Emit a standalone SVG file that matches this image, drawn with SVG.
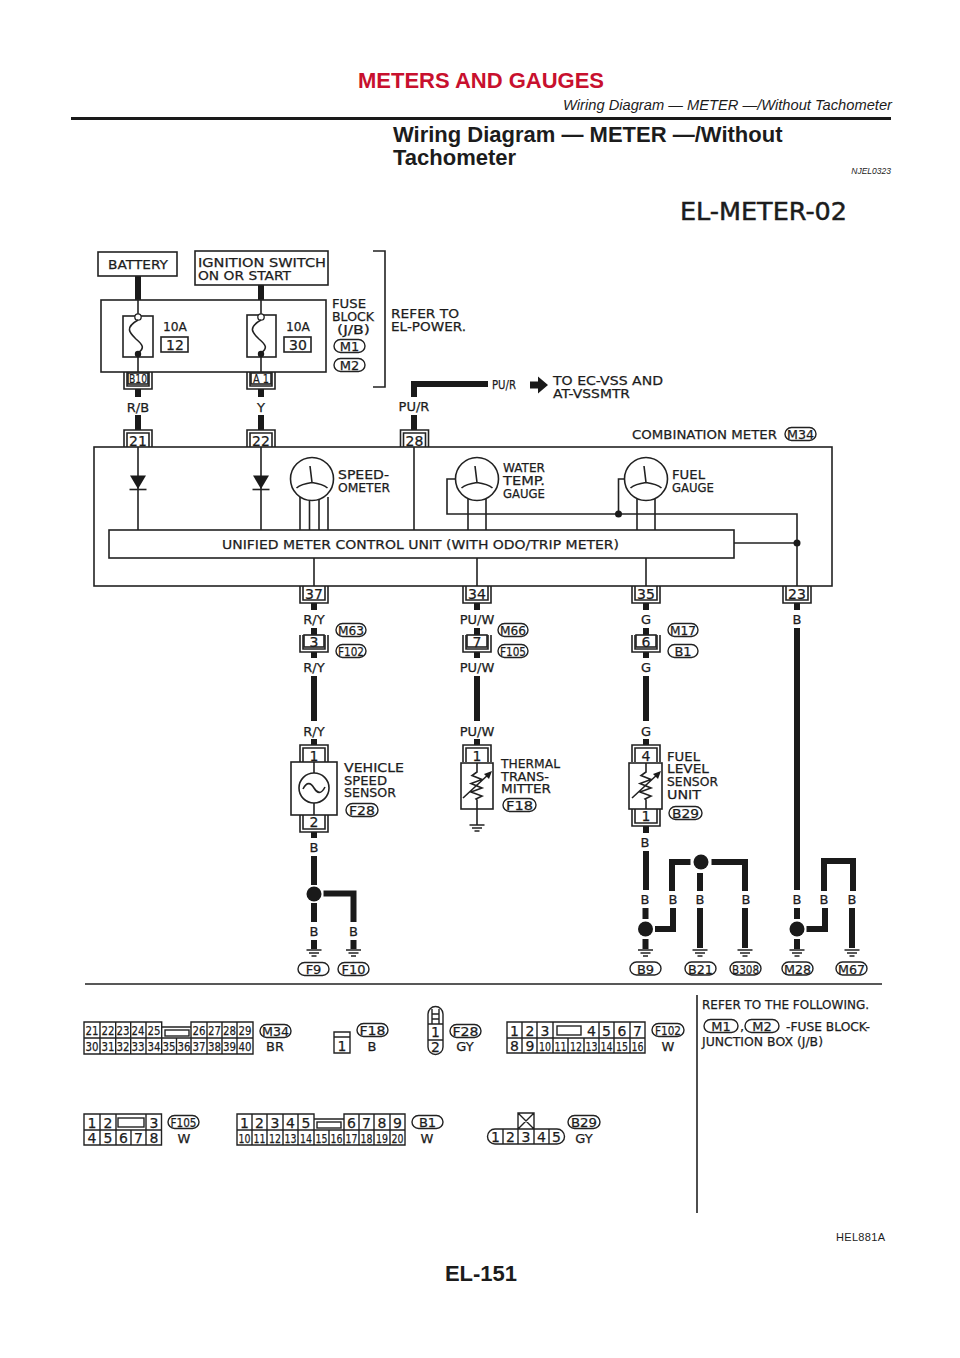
<svg xmlns="http://www.w3.org/2000/svg" width="960" height="1358" viewBox="0 0 960 1358">
<style>
text{font-family:"DejaVu Sans","Liberation Sans",sans-serif;fill:#1c1c1c}
.t{font-size:13px;stroke:#1c1c1c;stroke-width:.25}
.s{font-size:13px;text-anchor:middle;stroke:#1c1c1c;stroke-width:.25}
.c{font-size:14px;text-anchor:middle;stroke:#1c1c1c;stroke-width:.25}
.n{font-size:12.5px;text-anchor:middle;stroke:#1c1c1c;stroke-width:.25}
.h{font-family:"Liberation Sans",Arial,sans-serif}
.l,.o,.box{fill:none;stroke:#222;stroke-width:1.6}
.box{fill:#fff}
.o{fill:#fff;stroke-width:1.4}
.w{fill:none;stroke:#1a1a1a;stroke-width:6}
.g{fill:#1a1a1a}
.cell{fill:none;stroke:#222;stroke-width:1.4}
</style>
<defs>
<g id="gnd"><path class="l" d="M-7.500 0H7.500M-5 3H5M-2.500 6H2.500"/></g>
<g id="ub"><path class="l" d="M-14 0V17H14V0M-11 0V14H11V0"/></g>
<g id="ut"><path class="l" d="M-14 17V0H14V17M-11 17V3H11V17"/></g>
<g id="gauge"><circle class="box" r="21.500"/><path class="l" d="M0 3.500L-2 -13M0 3.500C-7 4.500 -12 6 -15.500 9M0 3.500C7 4.500 12 6 15.500 9"/></g>
<g id="fuse"><circle cx="0" cy="-19" r="3.200" fill="#fff" stroke="#222" stroke-width="1.300"/><path class="l" d="M0 -16C-14 -8 -8 -3 -2 3C5 9 7 12 0 17"/><circle class="g" cy="18" r="3.200"/></g>
<g id="therm"><path class="l" d="M0 -23V-14L-5 -10.500L5 -6.500L-6 -2.500L5 2L-6 6L5 10L-1 13L0 14V23M-14 12L13 -13"/><path class="g" d="M15 -15L7 -12L12 -7Z"/></g>
<g id="diode"><path class="g" d="M-8 -6.500H8L0 7Z"/><path class="l" d="M-8.500 7.500H8.500"/></g>
</defs>

<g id="header">
<text class="h" x="481" y="88" font-size="22" font-weight="700" style="fill:#c8102e" text-anchor="middle">METERS AND GAUGES</text>
<text class="h" x="892" y="110" font-size="14.700" font-style="italic" text-anchor="end">Wiring Diagram — METER —/Without Tachometer</text>
<rect x="71" y="117" width="820" height="3" fill="#1a1a1a"/>
<text class="h" x="393" y="142" font-size="22" font-weight="700">Wiring Diagram — METER —/Without</text>
<text class="h" x="393" y="165" font-size="22" font-weight="700">Tachometer</text>
<text class="h" x="891" y="174" font-size="8.500" font-style="italic" text-anchor="end">NJEL0323</text>
<text x="680" y="220" font-size="25" stroke="#1c1c1c" stroke-width=".5" textLength="167" lengthAdjust="spacingAndGlyphs">EL-METER-02</text>
</g>

<g id="connectors">
<path class="w" d="M138 276V300M261 285V300M138 389V397M138 415V430M261 389V397M261 415V430M414 415V430M414 397V384H488"/>
<path class="w" d="M314 603V610M314 628V636M314 652V658M314 676V721M314 739V745M314 832V838M314 856V885M314 903V922M314 940V949M323.500 893.500H353.500V922M353.500 940V949"/>
<path class="w" d="M477 603V610M477 628V636M477 652V658M477 676V721M477 739V745"/>
<path class="w" d="M646 603V610M646 628V636M646 652V658M646 676V721M646 739V745M646 826V833M646 851V890M645.500 908V919M645.500 939V949M655 929H673V908M672 891V862H690.500M711.500 862H745V891M745 908V948M700 873V891M700 908V948"/>
<path class="w" d="M797 603V610M797 628V890M797 908V919M797 939V949M806.500 929H825V908M824 891V861H853V891M852 908V948"/>
<path class="l" d="M138 300V316M138 357V372M261 300V316M261 357V372M138 447V530M261 447V530M414 447V530"/>
<path class="l" d="M300 497V530M309.500 500V530M319 500V530M328 497V530M468 498V530M486 498V530M637 498V530M655 498V530"/>
<path class="l" d="M455 479H447V514H797V586M627 479H618.500V514M734 543H797M314 558V586M477 558V586M646 558V586"/>
<path class="l" d="M373 251H385V387H373"/>
<circle class="g" cx="618.500" cy="514" r="3.500"/><circle class="g" cx="797" cy="543" r="3.500"/>
<circle class="g" cx="314" cy="894" r="7.500"/><circle class="g" cx="645.500" cy="929" r="7.500"/><circle class="g" cx="701" cy="862" r="7.500"/><circle class="g" cx="797" cy="929" r="7.500"/>
<path class="g" d="M530 381.500H538V376.500L548 385L538 393.500V388.500H530Z"/>
</g>

<g id="battery"><rect class="box" x="98" y="252" width="79" height="24"/><text class="t" x="108" y="269" textLength="60" lengthAdjust="spacingAndGlyphs">BATTERY</text></g>
<g id="ignition-switch"><rect class="box" x="195" y="251" width="133" height="34"/><text class="t" x="198" y="267" textLength="128" lengthAdjust="spacingAndGlyphs">IGNITION SWITCH</text><text class="t" x="198" y="280" textLength="93" lengthAdjust="spacingAndGlyphs">ON OR START</text></g>

<g id="fuse-block">
<rect class="l" x="101" y="300" width="225" height="72"/>
<rect class="box" x="123" y="316" width="30" height="41"/><use href="#fuse" x="138" y="336"/>
<rect class="box" x="247" y="315" width="29" height="42"/><use href="#fuse" x="261" y="336"/>
<text class="t" x="163" y="331" textLength="24" lengthAdjust="spacingAndGlyphs">10A</text>
<rect class="l" x="161" y="337" width="27" height="15"/><text class="c" x="175" y="350">12</text>
<text class="t" x="286" y="331" textLength="24" lengthAdjust="spacingAndGlyphs">10A</text>
<rect class="l" x="284" y="337" width="27" height="15"/><text class="c" x="298" y="350">30</text>
<text class="t" x="332" y="308" textLength="34" lengthAdjust="spacingAndGlyphs">FUSE</text>
<text class="t" x="332" y="321" textLength="42" lengthAdjust="spacingAndGlyphs">BLOCK</text>
<text class="t" x="337" y="334" textLength="33" lengthAdjust="spacingAndGlyphs">(J/B)</text>
<rect class="o" x="334" y="339.500" width="31" height="13" rx="6.500"/><text class="s" x="349.500" y="351">M1</text>
<rect class="o" x="334" y="358.500" width="31" height="13" rx="6.500"/><text class="s" x="349.500" y="370">M2</text>
<rect class="l" x="128" y="373" width="20" height="11"/><text class="n" x="138" y="383" textLength="18" lengthAdjust="spacingAndGlyphs">B10</text><use href="#ub" x="138" y="372"/>
<rect class="l" x="251" y="373" width="20" height="11"/><text class="n" x="261" y="383" textLength="16" lengthAdjust="spacingAndGlyphs">A 1</text><use href="#ub" x="261" y="372"/>
</g>
<g id="notes-top">
<text class="t" x="391" y="318" textLength="68" lengthAdjust="spacingAndGlyphs">REFER TO</text>
<text class="t" x="391" y="331" textLength="75" lengthAdjust="spacingAndGlyphs">EL-POWER.</text>
<text class="s" x="138" y="412">R/B</text><text class="s" x="261" y="412">Y</text><text class="s" x="414" y="411">PU/R</text>
<text class="s" x="504" y="389" textLength="24" lengthAdjust="spacingAndGlyphs">PU/R</text>
<text class="t" x="553" y="385" textLength="110" lengthAdjust="spacingAndGlyphs">TO EC-VSS AND</text>
<text class="t" x="553" y="398" textLength="77" lengthAdjust="spacingAndGlyphs">AT-VSSMTR</text>
<text class="t" x="632" y="439" textLength="145" lengthAdjust="spacingAndGlyphs">COMBINATION METER</text>
<rect class="o" x="785" y="427.500" width="31" height="13" rx="6.500"/><text class="s" x="800.500" y="439" textLength="27" lengthAdjust="spacingAndGlyphs">M34</text>
</g>

<g id="combination-meter">
<rect class="l" x="94" y="447" width="738" height="139"/>
<use href="#ut" x="138" y="430"/><text class="c" x="138" y="445.500">21</text>
<use href="#ut" x="261" y="430"/><text class="c" x="261" y="445.500">22</text>
<use href="#ut" x="414.500" y="430"/><text class="c" x="414.500" y="445.500">28</text>
<use href="#diode" x="138" y="482"/><use href="#diode" x="261" y="482"/>
<use href="#gauge" x="312" y="479"/><use href="#gauge" x="477" y="479"/><use href="#gauge" x="646" y="479"/>
<text class="t" x="338" y="479" textLength="51" lengthAdjust="spacingAndGlyphs">SPEED-</text>
<text class="t" x="338" y="492" textLength="52" lengthAdjust="spacingAndGlyphs">OMETER</text>
<text class="t" x="503" y="472" textLength="42" lengthAdjust="spacingAndGlyphs">WATER</text>
<text class="t" x="503" y="485" textLength="42" lengthAdjust="spacingAndGlyphs">TEMP.</text>
<text class="t" x="503" y="498" textLength="42" lengthAdjust="spacingAndGlyphs">GAUGE</text>
<text class="t" x="672" y="479" textLength="33" lengthAdjust="spacingAndGlyphs">FUEL</text>
<text class="t" x="672" y="492" textLength="42" lengthAdjust="spacingAndGlyphs">GAUGE</text>
<rect class="box" x="109" y="530" width="625" height="28"/>
<text class="t" x="222" y="549" textLength="397" lengthAdjust="spacingAndGlyphs">UNIFIED METER CONTROL UNIT (WITH ODO/TRIP METER)</text>
<use href="#ub" x="314" y="586"/><text class="c" x="314" y="598.500">37</text>
<use href="#ub" x="477" y="586"/><text class="c" x="477" y="598.500">34</text>
<use href="#ub" x="646" y="586"/><text class="c" x="646" y="598.500">35</text>
<use href="#ub" x="797" y="586"/><text class="c" x="797" y="598.500">23</text>
</g>

<g id="inline-m63-f102">
<text class="s" x="314" y="624">R/Y</text>
<rect class="box" x="304" y="635" width="20" height="12"/><use href="#ub" x="314" y="635"/><text class="c" x="314" y="646.500">3</text>
<rect class="o" x="336" y="623.500" width="30" height="13" rx="6.500"/><text class="s" x="351" y="635" textLength="26" lengthAdjust="spacingAndGlyphs">M63</text>
<rect class="o" x="336" y="644.500" width="30" height="13" rx="6.500"/><text class="s" x="351" y="656" textLength="26" lengthAdjust="spacingAndGlyphs">F102</text>
<text class="s" x="314" y="672">R/Y</text><text class="s" x="314" y="736">R/Y</text>
</g>
<g id="inline-m66-f105">
<text class="s" x="477" y="624">PU/W</text>
<rect class="box" x="467" y="635" width="20" height="12"/><use href="#ub" x="477" y="635"/><text class="c" x="477" y="646.500">7</text>
<rect class="o" x="498" y="623.500" width="30" height="13" rx="6.500"/><text class="s" x="513" y="635" textLength="26" lengthAdjust="spacingAndGlyphs">M66</text>
<rect class="o" x="498" y="644.500" width="30" height="13" rx="6.500"/><text class="s" x="513" y="656" textLength="26" lengthAdjust="spacingAndGlyphs">F105</text>
<text class="s" x="477" y="672">PU/W</text><text class="s" x="477" y="736">PU/W</text>
</g>
<g id="inline-m17-b1">
<text class="s" x="646" y="624">G</text>
<rect class="box" x="636" y="635" width="20" height="12"/><use href="#ub" x="646" y="635"/><text class="c" x="646" y="646.500">6</text>
<rect class="o" x="668" y="623.500" width="30" height="13" rx="6.500"/><text class="s" x="683" y="635" textLength="26" lengthAdjust="spacingAndGlyphs">M17</text>
<rect class="o" x="668" y="644.500" width="30" height="13" rx="6.500"/><text class="s" x="683" y="656">B1</text>
<text class="s" x="646" y="672">G</text><text class="s" x="646" y="736">G</text>
</g>

<g id="vehicle-speed-sensor">
<use href="#ut" x="314" y="745"/><text class="c" x="314" y="760.500">1</text>
<rect class="l" x="291" y="762" width="46" height="53"/>
<circle class="l" cx="314" cy="788" r="15"/><path class="l" d="M303 789C307 781 311 783 314 788C317 793 321 795 325 787"/>
<path class="l" d="M314 762V773M314 803V815"/>
<use href="#ub" x="314" y="815"/><text class="c" x="314" y="827">2</text>
<text class="t" x="344" y="771.500" textLength="60" lengthAdjust="spacingAndGlyphs">VEHICLE</text>
<text class="t" x="344" y="784.500" textLength="43" lengthAdjust="spacingAndGlyphs">SPEED</text>
<text class="t" x="344" y="797" textLength="52" lengthAdjust="spacingAndGlyphs">SENSOR</text>
<rect class="o" x="346" y="803.500" width="32" height="13" rx="6.500"/><text class="s" x="362" y="815" textLength="26" lengthAdjust="spacingAndGlyphs">F28</text>
<text class="s" x="314" y="852">B</text>
</g>
<g id="thermal-transmitter">
<use href="#ut" x="477" y="745"/><text class="c" x="477" y="760.500">1</text>
<rect class="l" x="461" y="763" width="32" height="46"/><use href="#therm" x="477" y="786"/>
<path class="l" d="M477 809V825"/><use href="#gnd" x="477" y="825"/>
<text class="t" x="501" y="768" textLength="59" lengthAdjust="spacingAndGlyphs">THERMAL</text>
<text class="t" x="501" y="780.500" textLength="48" lengthAdjust="spacingAndGlyphs">TRANS-</text>
<text class="t" x="501" y="793" textLength="50" lengthAdjust="spacingAndGlyphs">MITTER</text>
<rect class="o" x="503" y="798.500" width="33" height="13" rx="6.500"/><text class="s" x="519.500" y="810" textLength="27" lengthAdjust="spacingAndGlyphs">F18</text>
</g>
<g id="fuel-level-sensor">
<use href="#ut" x="646" y="745"/><text class="c" x="646" y="760.500">4</text>
<rect class="l" x="629" y="763" width="33" height="46"/><use href="#therm" x="646" y="786"/>
<use href="#ub" x="646" y="809"/><text class="c" x="646" y="821">1</text>
<text class="t" x="667" y="760.500" textLength="33" lengthAdjust="spacingAndGlyphs">FUEL</text>
<text class="t" x="667" y="773" textLength="42" lengthAdjust="spacingAndGlyphs">LEVEL</text>
<text class="t" x="667" y="785.500" textLength="51" lengthAdjust="spacingAndGlyphs">SENSOR</text>
<text class="t" x="667" y="798.500" textLength="34" lengthAdjust="spacingAndGlyphs">UNIT</text>
<rect class="o" x="669" y="806.500" width="33" height="13" rx="6.500"/><text class="s" x="685.500" y="818" textLength="27" lengthAdjust="spacingAndGlyphs">B29</text>
<text class="s" x="645" y="847">B</text>
</g>
<g id="grounds">
<text class="s" x="314" y="936">B</text><text class="s" x="353.500" y="936">B</text>
<use href="#gnd" x="314" y="950"/><use href="#gnd" x="353.500" y="950"/>
<rect class="o" x="298" y="962.500" width="31" height="13" rx="6.500"/><text class="s" x="313.500" y="974">F9</text>
<rect class="o" x="338" y="962.500" width="31" height="13" rx="6.500"/><text class="s" x="353.500" y="974" textLength="24" lengthAdjust="spacingAndGlyphs">F10</text>
<text class="s" x="645" y="904">B</text><text class="s" x="673" y="904">B</text><text class="s" x="700" y="904">B</text><text class="s" x="746" y="904">B</text>
<text class="s" x="797" y="904">B</text><text class="s" x="824" y="904">B</text><text class="s" x="852" y="904">B</text><text class="s" x="797" y="624">B</text>
<use href="#gnd" x="645.500" y="950"/><use href="#gnd" x="700" y="950"/><use href="#gnd" x="745" y="950"/><use href="#gnd" x="797" y="950"/><use href="#gnd" x="852" y="950"/>
<rect class="o" x="630" y="962" width="31" height="13" rx="6.500"/><text class="s" x="645.500" y="973.500">B9</text>
<rect class="o" x="685" y="962" width="31" height="13" rx="6.500"/><text class="s" x="700.500" y="973.500" textLength="25" lengthAdjust="spacingAndGlyphs">B21</text>
<rect class="o" x="730" y="962" width="31" height="13" rx="6.500"/><text class="s" x="745.500" y="973.500" textLength="27" lengthAdjust="spacingAndGlyphs">B308</text>
<rect class="o" x="782" y="962" width="31" height="13" rx="6.500"/><text class="s" x="797.500" y="973.500" textLength="27" lengthAdjust="spacingAndGlyphs">M28</text>
<rect class="o" x="836" y="962" width="31" height="13" rx="6.500"/><text class="s" x="851.500" y="973.500" textLength="27" lengthAdjust="spacingAndGlyphs">M67</text>
</g>

<g id="separators"><path class="l" d="M85 984H882M697 995V1213"/></g>

<g id="conn-m34">
<path class="cell" d="M84 1022H161.700V1027H191V1022H253V1054H84ZM84 1038H253M100 1022V1054M115.700 1022V1054M130.700 1022V1054M146 1022V1054M161.700 1022V1054M176.500 1038V1054M191 1022V1054M207 1022V1054M222 1022V1054M237 1022V1054"/>
<rect class="cell" x="165" y="1030" width="24" height="6"/>
<text class="n" x="92" y="1035" textLength="13" lengthAdjust="spacingAndGlyphs">21</text><text class="n" x="108" y="1035" textLength="13" lengthAdjust="spacingAndGlyphs">22</text><text class="n" x="123" y="1035" textLength="13" lengthAdjust="spacingAndGlyphs">23</text><text class="n" x="138" y="1035" textLength="13" lengthAdjust="spacingAndGlyphs">24</text><text class="n" x="154" y="1035" textLength="13" lengthAdjust="spacingAndGlyphs">25</text><text class="n" x="199" y="1035" textLength="13" lengthAdjust="spacingAndGlyphs">26</text><text class="n" x="214.500" y="1035" textLength="13" lengthAdjust="spacingAndGlyphs">27</text><text class="n" x="229.500" y="1035" textLength="13" lengthAdjust="spacingAndGlyphs">28</text><text class="n" x="245" y="1035" textLength="13" lengthAdjust="spacingAndGlyphs">29</text>
<text class="n" x="92" y="1051" textLength="13" lengthAdjust="spacingAndGlyphs">30</text><text class="n" x="108" y="1051" textLength="13" lengthAdjust="spacingAndGlyphs">31</text><text class="n" x="123" y="1051" textLength="13" lengthAdjust="spacingAndGlyphs">32</text><text class="n" x="138" y="1051" textLength="13" lengthAdjust="spacingAndGlyphs">33</text><text class="n" x="154" y="1051" textLength="13" lengthAdjust="spacingAndGlyphs">34</text><text class="n" x="169" y="1051" textLength="13" lengthAdjust="spacingAndGlyphs">35</text><text class="n" x="184" y="1051" textLength="13" lengthAdjust="spacingAndGlyphs">36</text><text class="n" x="199" y="1051" textLength="13" lengthAdjust="spacingAndGlyphs">37</text><text class="n" x="214.500" y="1051" textLength="13" lengthAdjust="spacingAndGlyphs">38</text><text class="n" x="229.500" y="1051" textLength="13" lengthAdjust="spacingAndGlyphs">39</text><text class="n" x="245" y="1051" textLength="13" lengthAdjust="spacingAndGlyphs">40</text>
<rect class="o" x="260" y="1024.500" width="31" height="13" rx="6.500"/><text class="s" x="275.500" y="1036" textLength="27" lengthAdjust="spacingAndGlyphs">M34</text>
<text class="s" x="275" y="1051">BR</text>
</g>
<g id="conn-f18">
<path class="cell" d="M334 1032H350V1053H334ZM334 1037H350"/><text class="c" x="342" y="1051">1</text>
<rect class="o" x="357" y="1023.500" width="31" height="13" rx="6.500"/><text class="s" x="372.500" y="1035" textLength="26" lengthAdjust="spacingAndGlyphs">F18</text>
<text class="s" x="372" y="1051">B</text>
</g>
<g id="conn-f28">
<path class="cell" d="M428 1024V1014A7.500 7.500 0 0 1 443 1014V1024M428 1024H443M432 1009V1024M439 1009V1024M432 1014H439M432 1019H439M428 1024V1047A7.500 7.500 0 0 0 443 1047V1024M428 1040H443"/>
<text class="c" x="435.500" y="1037">1</text><text class="c" x="435.500" y="1052">2</text>
<rect class="o" x="450" y="1024.500" width="31" height="13" rx="6.500"/><text class="s" x="465.500" y="1036" textLength="26" lengthAdjust="spacingAndGlyphs">F28</text>
<text class="s" x="465" y="1051">GY</text>
</g>
<g id="conn-f102">
<path class="cell" d="M507 1022H645V1053H507ZM507 1038H645M522 1022V1053M537 1022V1053M553 1022V1053M568 1038V1053M584 1038V1053M599 1022V1053M614 1022V1053M630 1022V1053"/>
<rect class="cell" x="557" y="1026" width="24" height="9"/>
<text class="c" x="514.500" y="1035.500">1</text><text class="c" x="530" y="1035.500">2</text><text class="c" x="545" y="1035.500">3</text><text class="c" x="591.500" y="1035.500">4</text><text class="c" x="606.500" y="1035.500">5</text><text class="c" x="622" y="1035.500">6</text><text class="c" x="637.500" y="1035.500">7</text>
<text class="c" x="514.500" y="1051">8</text><text class="c" x="530" y="1051">9</text><text class="n" x="545" y="1050.500" textLength="12" lengthAdjust="spacingAndGlyphs">10</text><text class="n" x="560.500" y="1050.500" textLength="12" lengthAdjust="spacingAndGlyphs">11</text><text class="n" x="576" y="1050.500" textLength="12" lengthAdjust="spacingAndGlyphs">12</text><text class="n" x="591.500" y="1050.500" textLength="12" lengthAdjust="spacingAndGlyphs">13</text><text class="n" x="606.500" y="1050.500" textLength="12" lengthAdjust="spacingAndGlyphs">14</text><text class="n" x="622" y="1050.500" textLength="12" lengthAdjust="spacingAndGlyphs">15</text><text class="n" x="637.500" y="1050.500" textLength="12" lengthAdjust="spacingAndGlyphs">16</text>
<rect class="o" x="652" y="1023.500" width="32" height="13" rx="6.500"/><text class="s" x="668" y="1035" textLength="26" lengthAdjust="spacingAndGlyphs">F102</text>
<text class="s" x="668" y="1051">W</text>
</g>
<g id="conn-f105">
<path class="cell" d="M84 1114H161.500V1145H84ZM84 1130H161.500M100 1114V1145M116 1114V1145M131 1130V1145M146 1114V1145"/>
<rect class="cell" x="118" y="1118" width="26" height="9"/>
<text class="c" x="92" y="1127.500">1</text><text class="c" x="108" y="1127.500">2</text><text class="c" x="154" y="1127.500">3</text>
<text class="c" x="92" y="1143">4</text><text class="c" x="108" y="1143">5</text><text class="c" x="123.500" y="1143">6</text><text class="c" x="138.500" y="1143">7</text><text class="c" x="154" y="1143">8</text>
<rect class="o" x="168" y="1115.500" width="31" height="13" rx="6.500"/><text class="s" x="183.500" y="1127" textLength="26" lengthAdjust="spacingAndGlyphs">F105</text>
<text class="s" x="184" y="1143">W</text>
</g>
<g id="conn-b1">
<path class="cell" d="M237 1114H314V1119H344V1114H405V1145H237ZM237 1130H405M252 1114V1145M267 1114V1145M283 1114V1145M298 1114V1145M314 1114V1145M329 1130V1145M344 1114V1145M359 1114V1145M374 1114V1145M390 1114V1145"/>
<rect class="cell" x="317" y="1122" width="24" height="6"/>
<text class="c" x="244.500" y="1127.500">1</text><text class="c" x="259.500" y="1127.500">2</text><text class="c" x="275" y="1127.500">3</text><text class="c" x="290.500" y="1127.500">4</text><text class="c" x="306" y="1127.500">5</text><text class="c" x="351.500" y="1127.500">6</text><text class="c" x="366.500" y="1127.500">7</text><text class="c" x="382" y="1127.500">8</text><text class="c" x="397.500" y="1127.500">9</text>
<text class="n" x="244.500" y="1142.500" textLength="12" lengthAdjust="spacingAndGlyphs">10</text><text class="n" x="259.500" y="1142.500" textLength="12" lengthAdjust="spacingAndGlyphs">11</text><text class="n" x="275" y="1142.500" textLength="12" lengthAdjust="spacingAndGlyphs">12</text><text class="n" x="290.500" y="1142.500" textLength="12" lengthAdjust="spacingAndGlyphs">13</text><text class="n" x="306" y="1142.500" textLength="12" lengthAdjust="spacingAndGlyphs">14</text><text class="n" x="321.500" y="1142.500" textLength="12" lengthAdjust="spacingAndGlyphs">15</text><text class="n" x="336.500" y="1142.500" textLength="12" lengthAdjust="spacingAndGlyphs">16</text><text class="n" x="351.500" y="1142.500" textLength="12" lengthAdjust="spacingAndGlyphs">17</text><text class="n" x="366.500" y="1142.500" textLength="12" lengthAdjust="spacingAndGlyphs">18</text><text class="n" x="382" y="1142.500" textLength="12" lengthAdjust="spacingAndGlyphs">19</text><text class="n" x="397.500" y="1142.500" textLength="12" lengthAdjust="spacingAndGlyphs">20</text>
<rect class="o" x="412" y="1115.500" width="31" height="13" rx="6.500"/><text class="s" x="427.500" y="1127">B1</text>
<text class="s" x="427" y="1143">W</text>
</g>
<g id="conn-b29">
<path class="cell" d="M518 1113H534V1129H518ZM518 1113L534 1129M534 1113L518 1129M495 1129H557A7.500 7.500 0 0 1 557 1144H495A7.500 7.500 0 0 1 495 1129ZM503 1129V1144M518 1129V1144M534 1129V1144M549 1129V1144"/>
<text class="c" x="495.500" y="1142">1</text><text class="c" x="510.500" y="1142">2</text><text class="c" x="526" y="1142">3</text><text class="c" x="541.500" y="1142">4</text><text class="c" x="556.500" y="1142">5</text>
<rect class="o" x="568" y="1115.500" width="32" height="13" rx="6.500"/><text class="s" x="584" y="1127" textLength="26" lengthAdjust="spacingAndGlyphs">B29</text>
<text class="s" x="584" y="1143">GY</text>
</g>
<g id="notes-bottom">
<text class="t" x="702" y="1009" textLength="167" lengthAdjust="spacingAndGlyphs">REFER TO THE FOLLOWING.</text>
<rect class="o" x="704" y="1019.500" width="34" height="13" rx="6.500"/><text class="s" x="721" y="1031">M1</text>
<text class="t" x="740" y="1031">,</text>
<rect class="o" x="745" y="1019.500" width="34" height="13" rx="6.500"/><text class="s" x="762" y="1031">M2</text>
<text class="t" x="786" y="1031" textLength="84" lengthAdjust="spacingAndGlyphs">-FUSE BLOCK-</text>
<text class="t" x="702" y="1046" textLength="121" lengthAdjust="spacingAndGlyphs">JUNCTION BOX (J/B)</text>
</g>
<g id="footer">
<text class="h" x="836" y="1241" font-size="11" textLength="49">HEL881A</text>
<text class="h" x="481" y="1281" font-size="22" font-weight="700" text-anchor="middle">EL-151</text>
</g>
</svg>
